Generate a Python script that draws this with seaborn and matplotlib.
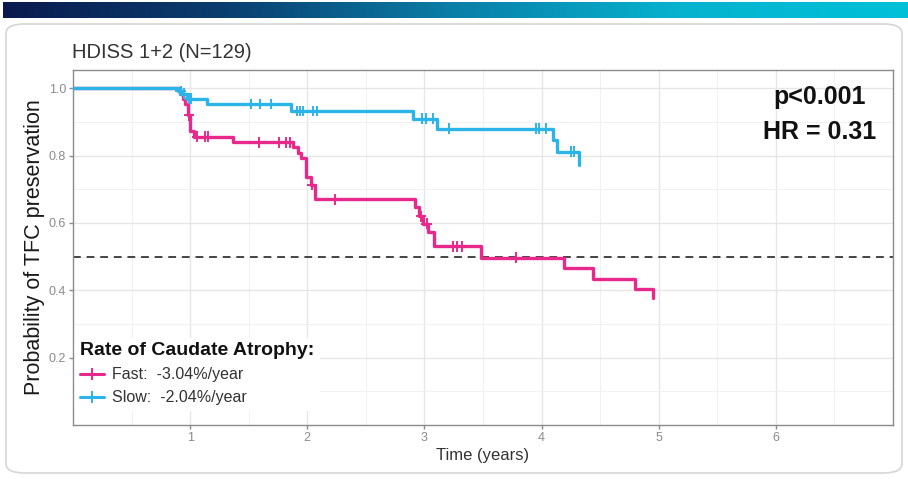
import numpy as np
import pandas as pd
import matplotlib
matplotlib.use("Agg")
import matplotlib.pyplot as plt
import seaborn as sns
from matplotlib.patches import FancyBboxPatch
from matplotlib.lines import Line2D
from matplotlib.ticker import MultipleLocator, FixedLocator
from matplotlib.colors import LinearSegmentedColormap

# ---------------- data ----------------
groups = ["Fast", "Slow"]
legend_labels = ["Fast:  -3.04%/year", "Slow:  -2.04%/year"]

fast_times = [0.0, 0.91, 0.94, 0.96, 0.98, 1.00, 1.03, 1.37, 1.88, 1.92, 1.95,
              1.99, 2.03, 2.07, 2.92, 2.95, 2.99, 3.03, 3.08, 3.48, 4.19, 4.44,
              4.80, 4.95]
fast_surv = [1.0, 0.984, 0.968, 0.952, 0.920, 0.872, 0.856, 0.839, 0.824, 0.808,
             0.792, 0.735, 0.713, 0.670, 0.647, 0.620, 0.598, 0.574, 0.530,
             0.497, 0.466, 0.434, 0.404, 0.377]
fast_censor = [0.99, 1.06, 1.13, 1.15, 1.59, 1.76, 1.82, 1.85, 2.04, 2.24, 2.97,
               3.02, 3.24, 3.28, 3.32, 3.78]

slow_times = [0.0, 0.90, 0.93, 0.97, 1.14, 1.86, 2.90, 3.11, 4.10, 4.13, 4.32]
slow_surv = [1.0, 0.992, 0.984, 0.969, 0.953, 0.932, 0.910, 0.880, 0.846, 0.811,
             0.772]
slow_censor = [0.92, 0.95, 0.99, 1.01, 1.52, 1.60, 1.69, 1.91, 1.94, 1.96, 2.05,
               2.08, 2.98, 3.01, 3.07, 3.21, 3.95, 3.98, 4.04, 4.25, 4.28]

median_line = 0.5
x_ticks = [1, 2, 3, 4, 5, 6]
y_ticks = [0.2, 0.4, 0.6, 0.8, 1.0]

title_text = "HDISS 1+2 (N=129)"
stats_text = ["p<0.001", "HR = 0.31"]
legend_title = "Rate of Caudate Atrophy:"
xlabel = "Time (years)"
ylabel = "Probability of TFC preservation"

colors = {"Fast": "#e8298b", "Slow": "#2bb4e8"}

# ---------------- build tables ----------------
def surv_at(times, surv, t):
    idx = np.searchsorted(np.asarray(times), t, side="right") - 1
    return np.asarray(surv)[idx]

steps = pd.concat([
    pd.DataFrame({"time": fast_times, "surv": fast_surv, "group": "Fast"}),
    pd.DataFrame({"time": slow_times, "surv": slow_surv, "group": "Slow"}),
], ignore_index=True)

cens = pd.concat([
    pd.DataFrame({"time": fast_censor,
                  "surv": surv_at(fast_times, fast_surv, fast_censor),
                  "group": "Fast"}),
    pd.DataFrame({"time": slow_censor,
                  "surv": surv_at(slow_times, slow_surv, slow_censor),
                  "group": "Slow"}),
], ignore_index=True)

# ---------------- style ----------------
sns.set_theme(style="white")
plt.rcParams["font.family"] = ["Liberation Sans", "DejaVu Sans"]

W, H = 908, 479
fig = plt.figure(figsize=(W / 100, H / 100), dpi=100)
fig.patch.set_facecolor("white")

# card background
card = FancyBboxPatch((6 / W, 6 / H), (W - 12) / W, (H - 30) / H,
                      boxstyle="round,pad=0,rounding_size=0.02",
                      transform=fig.transFigure, facecolor="white",
                      edgecolor="#d6d6d6", linewidth=1.2, zorder=-10)
fig.patches.append(card)

# gradient bar on top
gax = fig.add_axes([3 / W, 1 - 18 / H, (W - 3) / W, 16 / H])
grad = np.linspace(0, 1, 512)[None, :]
cmap = LinearSegmentedColormap.from_list(
    "bar", ["#0b1a4e", "#0a3f70", "#0a7fa8", "#07b3cf", "#00c0d8"])
gax.imshow(grad, aspect="auto", cmap=cmap, extent=[0, 1, 0, 1])
gax.set_axis_off()

# main axes
ax = fig.add_axes([73 / W, 1 - 425 / H, (893 - 73) / W, (425 - 70) / H])
ax.set_zorder(2)
ax.set_facecolor("white")

ax.set_xlim(0, 7.0)
ax.set_ylim(0.0, 1.054)
ax.xaxis.set_major_locator(FixedLocator(x_ticks))
ax.xaxis.set_minor_locator(MultipleLocator(0.5))
ax.yaxis.set_major_locator(FixedLocator(y_ticks))
ax.yaxis.set_minor_locator(MultipleLocator(0.1))
ax.grid(which="major", color="#e6e6e6", linewidth=1.0, zorder=0)
ax.grid(which="minor", color="#f1f1f1", linewidth=0.8, zorder=0)
ax.set_axisbelow(True)
for sp in ax.spines.values():
    sp.set_color("#8c8c8c")
    sp.set_linewidth(1.0)
ax.tick_params(axis="both", which="major", length=3, width=1, color="#8c8c8c",
               labelcolor="#8a8a8a", labelsize=9, pad=2, bottom=True, left=True)
ax.tick_params(axis="both", which="minor", length=0)

# median reference line
ax.axhline(median_line, color="#444444", linestyle=(0, (4, 3)), linewidth=1.4, zorder=2)

# KM step curves
sns.lineplot(data=steps, x="time", y="surv", hue="group", palette=colors,
             hue_order=groups, drawstyle="steps-post", linewidth=2.4,
             estimator=None, sort=False, legend=False, ax=ax, zorder=3)
# censor marks
sns.scatterplot(data=cens, x="time", y="surv", hue="group", palette=colors,
                hue_order=groups, marker="+", s=60, linewidth=1.4,
                legend=False, ax=ax, zorder=4)

ax.set_xlabel(xlabel, fontsize=12, color="#333333", labelpad=3)
ax.set_ylabel(ylabel, fontsize=15.5, color="#1a1a1a", labelpad=3)

# title
fig.text(72 / W, 1 - 53 / H, title_text, fontsize=14.5, color="#333333",
         ha="left", va="center")

# stats
ax.text(0.910, 0.924, stats_text[0], transform=ax.transAxes, fontsize=18,
        fontweight="bold", ha="center", va="center", color="#111111")
ax.text(0.910, 0.825, stats_text[1], transform=ax.transAxes, fontsize=18,
        fontweight="bold", ha="center", va="center", color="#111111")

# legend
handles = [Line2D([0], [0], color=colors[g], linewidth=2.2, marker="+",
                  markersize=8, markeredgewidth=1.4) for g in groups]
leg = ax.legend(handles, legend_labels, title=legend_title,
                loc="lower left", bbox_to_anchor=(0.0, 0.035),
                borderaxespad=0.15,
                frameon=True, facecolor="white", edgecolor="white",
                framealpha=1.0, fontsize=11.5, handlelength=1.5,
                handletextpad=0.5, labelspacing=0.5, borderpad=0.3,
                alignment="left",
                title_fontproperties={"weight": "bold", "size": 14})
for t in leg.get_texts():
    t.set_color("#333333")
leg.get_title().set_color("#111111")
leg.set_zorder(5)

fig.savefig("out.png", dpi=100, facecolor=fig.get_facecolor())
